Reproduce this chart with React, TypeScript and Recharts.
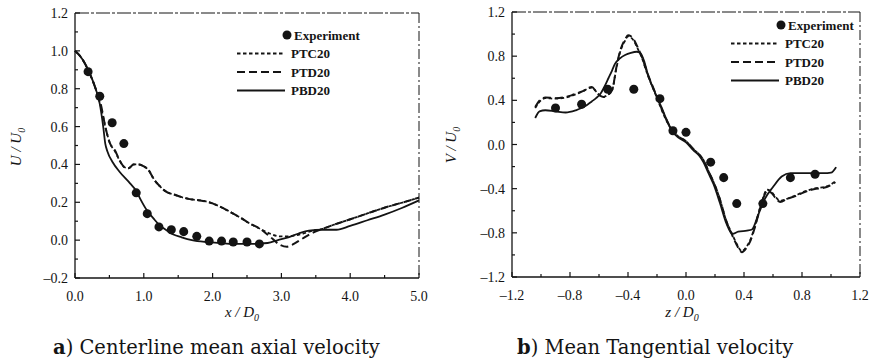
import React from "react";
import { ComposedChart, Line, Scatter, XAxis, YAxis } from "recharts";

// Two panels: (a) centerline axial velocity, (b) tangential velocity profile.
// Black-and-white journal figure: inward ticks, boxed frame, serif text.

const INK = "#141414";
const FONT = "'Liberation Serif', 'Times New Roman', serif";
const CAPTION_FONT = "'DejaVu Serif', serif";

// ---- panel (a): U/U0 along x/D0 ----
const axialTicksMajor = [0, 1, 2, 3, 4, 5];
const axialTicksMinor = [0.5, 1.5, 2.5, 3.5, 4.5];
const uTicksMajor = [-0.2, 0, 0.2, 0.4, 0.6, 0.8, 1.0, 1.2];
const uTicksMinor = [-0.1, 0.1, 0.3, 0.5, 0.7, 0.9, 1.1];

const expAxialX = [0.19, 0.36, 0.54, 0.71, 0.89, 1.05, 1.22, 1.4, 1.58, 1.77, 1.95, 2.13, 2.3, 2.5, 2.68];
const expAxialY = [0.89, 0.76, 0.62, 0.51, 0.25, 0.14, 0.07, 0.055, 0.045, 0.02, -0.005, -0.005, -0.01, -0.01, -0.02];

const ptcAxialX = [0, 0.1, 0.19, 0.3, 0.38, 0.44, 0.51, 0.58, 0.65, 0.72, 0.78, 0.85, 0.92, 1.0, 1.07, 1.15, 1.22, 1.33, 1.45, 1.57, 1.7, 1.82, 1.95, 2.06, 2.2, 2.3, 2.4, 2.54, 2.69, 2.83, 2.98, 3.1, 3.27, 3.46, 3.6, 3.75, 4.0, 4.24, 4.53, 4.82, 5.0];
const ptcAxialY = [1.0, 0.96, 0.9, 0.8, 0.7, 0.6, 0.51, 0.47, 0.42, 0.385, 0.38, 0.4, 0.4, 0.39, 0.37, 0.32, 0.29, 0.255, 0.24, 0.225, 0.215, 0.21, 0.2, 0.185, 0.16, 0.14, 0.12, 0.088, 0.06, 0.035, 0.02, 0.02, 0.03, 0.05, 0.06, 0.08, 0.11, 0.14, 0.175, 0.205, 0.225];

const ptdAxialX = [0, 0.1, 0.19, 0.3, 0.38, 0.44, 0.51, 0.58, 0.65, 0.72, 0.78, 0.85, 0.92, 1.0, 1.07, 1.15, 1.22, 1.33, 1.45, 1.57, 1.7, 1.82, 1.95, 2.06, 2.2, 2.3, 2.4, 2.54, 2.69, 2.83, 2.98, 3.08, 3.18, 3.27, 3.36, 3.46, 3.6, 3.75, 4.0, 4.24, 4.53, 4.82, 5.0];
const ptdAxialY = [1.0, 0.96, 0.9, 0.8, 0.71, 0.6, 0.51, 0.475, 0.42, 0.385, 0.38, 0.4, 0.4, 0.39, 0.37, 0.32, 0.29, 0.255, 0.24, 0.225, 0.215, 0.21, 0.2, 0.185, 0.16, 0.14, 0.12, 0.088, 0.06, 0.02, -0.025, -0.035, -0.02, 0.0, 0.02, 0.04, 0.06, 0.08, 0.11, 0.14, 0.175, 0.205, 0.225];

const pbdAxialX = [0, 0.1, 0.19, 0.3, 0.36, 0.41, 0.44, 0.47, 0.55, 0.65, 0.8, 0.89, 0.96, 1.04, 1.14, 1.24, 1.34, 1.43, 1.55, 1.7, 1.9, 2.1, 2.3, 2.55, 2.8, 2.95, 3.1, 3.25, 3.4, 3.6, 3.8, 4.0, 4.25, 4.5, 4.75, 5.0];
const pbdAxialY = [1.0, 0.96, 0.9, 0.8, 0.72, 0.6, 0.51, 0.47, 0.41, 0.36, 0.3, 0.26, 0.21, 0.16, 0.115, 0.075, 0.05, 0.03, 0.015, 0.0, -0.01, -0.015, -0.02, -0.02, -0.015, 0.0, 0.015, 0.035, 0.05, 0.055, 0.055, 0.075, 0.105, 0.135, 0.17, 0.21];

// ---- panel (b): V/U0 across z/D0 ----
const radialTicksMajor = [-1.2, -0.8, -0.4, 0, 0.4, 0.8, 1.2];
const radialTicksMinor = [-1.0, -0.6, -0.2, 0.2, 0.6, 1.0];
const vTicksMajor = [-1.2, -0.8, -0.4, 0, 0.4, 0.8, 1.2];
const vTicksMinor = [-1.0, -0.6, -0.2, 0.2, 0.6, 1.0];

const expTangX = [-0.9, -0.72, -0.54, -0.36, -0.18, -0.09, 0.0, 0.17, 0.26, 0.35, 0.53, 0.72, 0.89];
const expTangY = [0.33, 0.365, 0.5, 0.5, 0.415, 0.125, 0.11, -0.16, -0.3, -0.535, -0.535, -0.3, -0.27];

const ptcTangX = [-1.04, -1.0, -0.97, -0.9, -0.83, -0.79, -0.74, -0.7, -0.67, -0.65, -0.62, -0.6, -0.57, -0.54, -0.51, -0.48, -0.46, -0.44, -0.42, -0.4, -0.38, -0.36, -0.33, -0.3, -0.27, -0.24, -0.2, -0.17, -0.14, -0.1, -0.05, 0.0, 0.05, 0.09, 0.12, 0.155, 0.19, 0.23, 0.28, 0.315, 0.35, 0.385, 0.42, 0.445, 0.475, 0.52, 0.56, 0.59, 0.615, 0.65, 0.7, 0.75, 0.8, 0.88, 0.97, 1.03];
const ptcTangY = [0.33, 0.4, 0.42, 0.415, 0.425, 0.44, 0.465, 0.49, 0.51, 0.515, 0.48, 0.45, 0.43, 0.45, 0.49, 0.69, 0.81, 0.89, 0.94, 0.98, 0.97, 0.94, 0.86, 0.77, 0.65, 0.55, 0.42, 0.32, 0.23, 0.14, 0.07, 0.03, -0.04, -0.09, -0.14, -0.24, -0.34, -0.48, -0.7, -0.8, -0.9, -0.965, -0.92, -0.86, -0.74, -0.53, -0.41, -0.43, -0.47, -0.51, -0.49, -0.465, -0.435, -0.4, -0.38, -0.335];

const ptdTangX = [-1.04, -1.0, -0.97, -0.9, -0.83, -0.79, -0.74, -0.7, -0.67, -0.65, -0.62, -0.6, -0.57, -0.54, -0.51, -0.48, -0.46, -0.44, -0.42, -0.4, -0.38, -0.36, -0.33, -0.3, -0.27, -0.24, -0.2, -0.17, -0.14, -0.1, -0.05, 0.0, 0.05, 0.09, 0.12, 0.155, 0.19, 0.23, 0.28, 0.315, 0.35, 0.385, 0.42, 0.445, 0.475, 0.52, 0.56, 0.59, 0.615, 0.65, 0.7, 0.75, 0.8, 0.88, 0.97, 1.03];
const ptdTangY = [0.34, 0.41, 0.425, 0.42, 0.43, 0.445, 0.47, 0.49, 0.515, 0.52, 0.48, 0.45, 0.43, 0.45, 0.49, 0.7, 0.82, 0.9, 0.95, 0.99, 0.98, 0.95, 0.87, 0.78, 0.66, 0.56, 0.43, 0.33, 0.24, 0.14, 0.07, 0.03, -0.04, -0.09, -0.14, -0.24, -0.34, -0.48, -0.7, -0.81, -0.91, -0.975, -0.93, -0.87, -0.75, -0.54, -0.42, -0.44, -0.48, -0.52, -0.49, -0.47, -0.44, -0.405, -0.385, -0.34];

const pbdTangX = [-1.04, -1.01, -0.97, -0.9, -0.83, -0.76, -0.72, -0.68, -0.65, -0.62, -0.59, -0.56, -0.535, -0.51, -0.49, -0.455, -0.42, -0.38, -0.34, -0.317, -0.29, -0.26, -0.23, -0.2, -0.17, -0.145, -0.12, -0.09, -0.05, 0.0, 0.05, 0.09, 0.12, 0.155, 0.19, 0.234, 0.28, 0.32, 0.36, 0.42, 0.455, 0.5, 0.545, 0.6, 0.66, 0.72, 0.8, 0.88, 0.95, 1.0, 1.035];
const pbdTangY = [0.24, 0.3, 0.31, 0.3, 0.29, 0.31, 0.33, 0.36, 0.39, 0.42, 0.46, 0.53, 0.6, 0.67, 0.73, 0.78, 0.81, 0.83, 0.84, 0.83, 0.76, 0.62, 0.52, 0.43, 0.34, 0.26, 0.18, 0.11, 0.06, 0.02, -0.05, -0.1, -0.16, -0.26, -0.36, -0.53, -0.72, -0.81, -0.79, -0.78, -0.77, -0.63, -0.49, -0.385, -0.29, -0.26, -0.26, -0.26, -0.26, -0.255, -0.205];

const seriesNames = ["Experiment", "PTC20", "PTD20", "PBD20"];
const dashes: Record<string, string | undefined> = {
  PTC20: "3.5 2.5",
  PTD20: "8 4",
  PBD20: undefined,
};

const zip = (xs: number[], ys: number[]) => xs.map((x, i) => ({ x, y: ys[i] }));

const fmt = (v: number) => {
  const s = Math.abs(v).toFixed(1);
  return v < -1e-9 ? "\u2013" + s : s;
};

type Side = "bottom" | "top" | "left" | "right";

function makeTick(side: Side, majors: number[], labelled: boolean) {
  return function Tick(props: any) {
    const { x = 0, y = 0, payload } = props;
    const v: number = payload?.value ?? 0;
    const isMajor = majors.some((m) => Math.abs(m - v) < 1e-6);
    const len = isMajor ? 5 : 3;
    let line;
    if (side === "bottom") line = <line x1={x} x2={x} y1={y} y2={y - len} />;
    else if (side === "top") line = <line x1={x} x2={x} y1={y} y2={y + len} />;
    else if (side === "left") line = <line x1={x} x2={x + len} y1={y} y2={y} />;
    else line = <line x1={x} x2={x - len} y1={y} y2={y} />;
    return (
      <g>
        <g stroke={INK} strokeWidth={1.2}>{line}</g>
        {labelled && isMajor && side === "bottom" && (
          <text x={x} y={y + 23} textAnchor="middle" fontFamily={FONT} fontSize={14} fill={INK}>
            {fmt(v)}
          </text>
        )}
        {labelled && isMajor && side === "left" && (
          <text x={x - 7} y={y + 5} textAnchor="end" fontFamily={FONT} fontSize={14} fill={INK}>
            {fmt(v)}
          </text>
        )}
      </g>
    );
  };
}

function LegendBox({ left, top }: { left: number; top: number }) {
  return (
    <svg
      width={130}
      height={80}
      style={{ position: "absolute", left, top, overflow: "visible" }}
    >
      {seriesNames.map((name, i) => {
        const cy = 9 + i * 18.5;
        return (
          <g key={name}>
            {name === "Experiment" ? (
              <circle cx={50} cy={cy} r={4.5} fill={INK} />
            ) : (
              <line
                x1={0}
                x2={48}
                y1={cy}
                y2={cy}
                stroke={INK}
                strokeWidth={1.8}
                strokeDasharray={dashes[name]}
              />
            )}
            <text
              x={name === "Experiment" ? 57 : 54}
              y={cy + 4.5}
              fontFamily={FONT}
              fontSize={13}
              fontWeight="bold"
              fill={INK}
            >
              {name}
            </text>
          </g>
        );
      })}
    </svg>
  );
}

interface PanelProps {
  left: number;
  width: number;
  margin: { top: number; right: number; bottom: number; left: number };
  xDomain: [number, number];
  yDomain: [number, number];
  xMajor: number[];
  xMinor: number[];
  yMajor: number[];
  yMinor: number[];
  exp: { x: number; y: number }[];
  ptc: { x: number; y: number }[];
  ptd: { x: number; y: number }[];
  pbd: { x: number; y: number }[];
}

function Panel(p: PanelProps) {
  const xTicks = [...p.xMajor, ...p.xMinor].sort((a, b) => a - b);
  const yTicks = [...p.yMajor, ...p.yMinor].sort((a, b) => a - b);
  const axisLine = { stroke: INK, strokeWidth: 1.3 };
  return (
    <div style={{ position: "absolute", left: p.left, top: 0 }}>
      <ComposedChart width={p.width} height={363} margin={p.margin}>
        <XAxis
          xAxisId="b"
          dataKey="x"
          type="number"
          domain={p.xDomain}
          ticks={xTicks}
          interval={0}
          height={1}
          tickSize={0}
          tickMargin={0}
          axisLine={axisLine}
          tickLine={false}
          tick={makeTick("bottom", p.xMajor, true)}
        />
        <XAxis
          xAxisId="t"
          orientation="top"
          dataKey="x"
          type="number"
          domain={p.xDomain}
          ticks={p.xMajor}
          interval={0}
          height={1}
          tickSize={0}
          tickMargin={0}
          axisLine={{ stroke: INK, strokeWidth: 1, strokeDasharray: "14 2 3 2" }}
          tickLine={false}
          tick={makeTick("top", p.xMajor, false)}
        />
        <YAxis
          yAxisId="l"
          dataKey="y"
          type="number"
          domain={p.yDomain}
          ticks={yTicks}
          interval={0}
          width={1}
          tickSize={0}
          tickMargin={0}
          axisLine={axisLine}
          tickLine={false}
          tick={makeTick("left", p.yMajor, true)}
        />
        <YAxis
          yAxisId="r"
          orientation="right"
          dataKey="y"
          type="number"
          domain={p.yDomain}
          ticks={p.yMajor}
          interval={0}
          width={1}
          tickSize={0}
          tickMargin={0}
          axisLine={{ stroke: INK, strokeWidth: 1, strokeDasharray: "10 3 2 3" }}
          tickLine={false}
          tick={makeTick("right", p.yMajor, false)}
        />
        <Line
          xAxisId="b"
          yAxisId="l"
          data={p.ptc}
          dataKey="y"
          type="monotone"
          stroke={INK}
          strokeWidth={1.8}
          strokeDasharray={dashes.PTC20}
          dot={false}
          activeDot={false}
          isAnimationActive={false}
        />
        <Line
          xAxisId="b"
          yAxisId="l"
          data={p.ptd}
          dataKey="y"
          type="monotone"
          stroke={INK}
          strokeWidth={2}
          strokeDasharray={dashes.PTD20}
          dot={false}
          activeDot={false}
          isAnimationActive={false}
        />
        <Line
          xAxisId="b"
          yAxisId="l"
          data={p.pbd}
          dataKey="y"
          type="monotone"
          stroke={INK}
          strokeWidth={1.8}
          dot={false}
          activeDot={false}
          isAnimationActive={false}
        />
        <Scatter
          xAxisId="b"
          yAxisId="l"
          data={p.exp}
          dataKey="y"
          fill={INK}
          shape="circle"
          isAnimationActive={false}
        />
      </ComposedChart>
    </div>
  );
}

const textBase: React.CSSProperties = {
  position: "absolute",
  fontFamily: FONT,
  color: INK,
  whiteSpace: "nowrap",
  lineHeight: 1,
};

function AxisTitle({ cx, cy, rotate, a, b }: { cx: number; cy: number; rotate?: boolean; a: string; b: string }) {
  return (
    <div
      style={{
        ...textBase,
        left: cx,
        top: cy,
        fontSize: 15,
        fontStyle: "italic",
        transform: `translate(-50%, -50%)${rotate ? " rotate(-90deg)" : ""}`,
      }}
    >
      {a} / {b}
      <sub style={{ fontSize: 10 }}>0</sub>
    </div>
  );
}

const captionStyle: React.CSSProperties = {
  ...textBase,
  fontFamily: CAPTION_FONT,
  fontSize: 19.5,
  top: 338,
};

export default function App() {
  return (
    <div style={{ position: "absolute", left: 0, top: 0, width: 871, height: 363, background: "#fff", overflow: "hidden" }}>
      <Panel
        left={0}
        width={435}
        margin={{ top: 12, right: 15, bottom: 84, left: 74 }}
        xDomain={[0, 5]}
        yDomain={[-0.2, 1.2]}
        xMajor={axialTicksMajor}
        xMinor={axialTicksMinor}
        yMajor={uTicksMajor}
        yMinor={uTicksMinor}
        exp={zip(expAxialX, expAxialY)}
        ptc={zip(ptcAxialX, ptcAxialY)}
        ptd={zip(ptdAxialX, ptdAxialY)}
        pbd={zip(pbdAxialX, pbdAxialY)}
      />
      <Panel
        left={435}
        width={436}
        margin={{ top: 11, right: 10, bottom: 85, left: 76 }}
        xDomain={[-1.2, 1.2]}
        yDomain={[-1.2, 1.2]}
        xMajor={radialTicksMajor}
        xMinor={radialTicksMinor}
        yMajor={vTicksMajor}
        yMinor={vTicksMinor}
        exp={zip(expTangX, expTangY)}
        ptc={zip(ptcTangX, ptcTangY)}
        ptd={zip(ptdTangX, ptdTangY)}
        pbd={zip(pbdTangX, pbdTangY)}
      />
      <LegendBox left={237} top={26} />
      <LegendBox left={731} top={16} />
      <AxisTitle cx={18} cy={147} rotate a="U" b="U" />
      <AxisTitle cx={453} cy={145} rotate a="V" b="U" />
      <AxisTitle cx={242} cy={314} a="x" b="D" />
      <AxisTitle cx={682} cy={314} a="z" b="D" />
      <div style={{ ...captionStyle, left: 53 }}>
        <b>a</b>) Centerline mean axial velocity
      </div>
      <div style={{ ...captionStyle, left: 517 }}>
        <b>b</b>) Mean Tangential velocity
      </div>
    </div>
  );
}
